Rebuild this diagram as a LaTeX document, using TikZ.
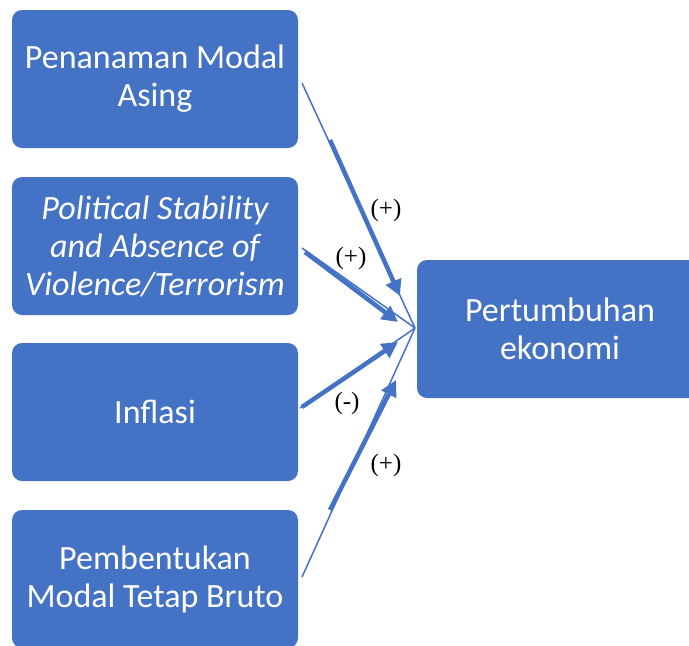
\documentclass[tikz,border=0pt]{standalone}
\usepackage{fontspec}
\setmainfont{Carlito}
\newfontfamily\labelfont{Liberation Serif}
\definecolor{B}{HTML}{4472C4}
\usetikzlibrary{arrows.meta}
\usetikzlibrary{positioning}
\tikzstyle{base}=[x=1pt, y=-1pt, inner sep=0pt, outer sep=0pt]
\tikzstyle{box}=[fill=B, rounded corners=10pt, minimum width=286pt, minimum height=138pt, align=center, text=white, font=\fontsize{34}{38}\selectfont]
\tikzstyle{thin}=[B, line width=1.5pt]
\tikzstyle{thick}=[B, line width=4.5pt, -{Triangle[length=16pt,width=16pt]}]
\tikzstyle{sign}=[font=\labelfont\fontsize{25}{28}\selectfont]

\begin{document}
\begin{tikzpicture}[base]
    \useasboundingbox (0,0) rectangle (689,646);
        \node [box] (pma) at (155,79) {Penanaman Modal\\Asing};
        \node [box] (psav) at (155,246) {\itshape Political Stability\\\itshape and Absence of\\\itshape Violence/Terrorism};
        \node [box] (inf) at (155,412) {Inflasi};
        \node [box] (pmtb) at (155,579) {Pembentukan\\Modal Tetap Bruto};
        \node [box] (pe) at (560,329) {Pertumbuhan\\ekonomi};
        % converging lines
        \coordinate (hub) at (415,328);
        \coordinate (s1) at (302,83);
        \coordinate (s2) at (302,248);
        \coordinate (s3) at (300,408);
        \coordinate (s4) at (302,577);
        \foreach \s in {s1,s2,s3,s4}
            \draw [thin] (\s) -- (hub);
        \draw [thick] (330,140) -- (400,296);
        \draw [thick] (305,252) -- (398,322);
        \draw [thick] (302,407) -- (398,342);
        \draw [thick] (330,510) -- (396,380);
        \node [sign] (l1) at (386,210) {(+)};
        \node [sign] (l2) at (351,258) {(+)};
        \node [sign] (l3) at (347,403) {(-)};
        \node [sign] (l4) at (386,465) {(+)};
    \end{tikzpicture}
\end{document}
